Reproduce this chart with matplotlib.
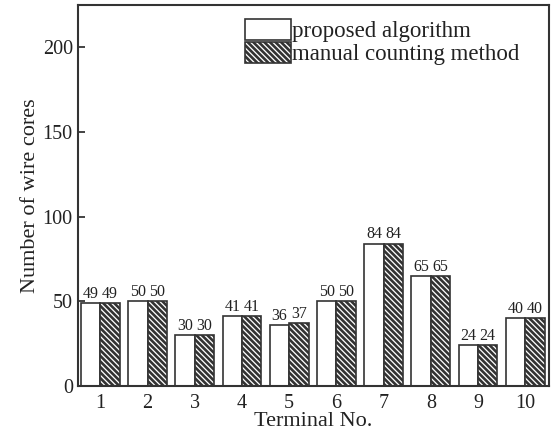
import matplotlib
matplotlib.use("Agg")
import matplotlib.pyplot as plt
import numpy as np

terminals = [1, 2, 3, 4, 5, 6, 7, 8, 9, 10]
proposed = [49, 50, 30, 41, 36, 50, 84, 65, 24, 40]
manual = [49, 50, 30, 41, 37, 50, 84, 65, 24, 40]
series_names = ["proposed algorithm", "manual counting method"]

plt.rcParams["font.family"] = ["Liberation Serif", "DejaVu Serif"]
plt.rcParams["hatch.linewidth"] = 1.9
plt.rcParams["hatch.color"] = "#111111"

fig = plt.figure(figsize=(5.51, 4.34), dpi=100)
ax = fig.add_axes([0.141, 0.111, 0.855, 0.877])

x = np.array(terminals, dtype=float)
w = 0.41
edge = "#333333"
b1 = ax.bar(x - w / 2, proposed, width=w, facecolor="white", edgecolor=edge,
            linewidth=1.2, label=series_names[0])
b2 = ax.bar(x + w / 2, manual, width=w, facecolor="white", edgecolor=edge,
            linewidth=1.2, hatch="\\\\\\\\\\\\", label=series_names[1])

for xs, vals in ((x - w / 2, proposed), (x + w / 2, manual)):
    for xi, v in zip(xs, vals):
        ax.text(xi, v + 0.8, str(v), ha="center", va="bottom", fontsize=11.5,
                color="#222222")

ax.set_xlim(0.52, 10.5)
ax.set_ylim(0, 225)
ax.set_xticks(terminals)
ax.set_xticklabels([str(t) for t in terminals])
ax.set_yticks([0, 50, 100, 150, 200])
ax.tick_params(axis="y", direction="in", length=5, width=1.2, labelsize=14.5,
               colors="#222222")
ax.tick_params(axis="x", length=0, labelsize=14.5, colors="#222222", pad=6)
for s in ax.spines.values():
    s.set_linewidth(1.5)
    s.set_color(edge)

ax.set_xlabel("Terminal No.", fontsize=16, labelpad=-1, color="#222222")
ax.set_ylabel("Number of wire cores", fontsize=16, labelpad=2, color="#222222")

leg = ax.legend(loc="upper right", bbox_to_anchor=(0.972, 1.007), frameon=False,
                fontsize=16.5, handlelength=2.0, handleheight=1.05,
                labelspacing=0.0, handletextpad=0.05, borderpad=0.2)
for t in leg.get_texts():
    t.set_color("#222222")

fig.savefig("out.png", dpi=100)
